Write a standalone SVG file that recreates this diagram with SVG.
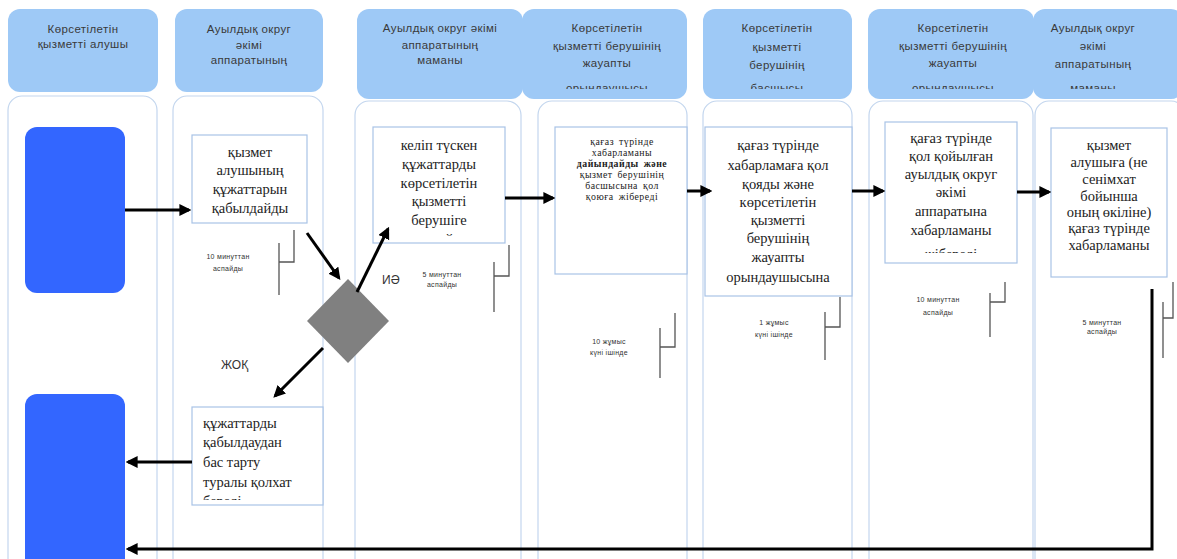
<svg xmlns="http://www.w3.org/2000/svg" width="1177" height="559" viewBox="0 0 1177 559">
<style>
.hdr{fill:#9ec9f6;stroke:none}
.lane{fill:#ffffff;stroke:#c3d6ee;stroke-width:1.2}
.ht{font-family:"Liberation Sans",Arial,sans-serif;font-size:11.5px;fill:#3a3a3a;text-anchor:middle;letter-spacing:0.4px}
.box{fill:#ffffff;stroke:#a9c3e6;stroke-width:1.2}
.bt{font-family:"Liberation Serif","Times New Roman",serif;font-size:14.5px;fill:#222;text-anchor:middle}
.btl{font-family:"Liberation Serif","Times New Roman",serif;font-size:14.5px;fill:#222;text-anchor:start}
.bs{font-family:"Liberation Serif","Times New Roman",serif;font-size:9.8px;fill:#222;text-anchor:middle;letter-spacing:0.5px;word-spacing:2px}
.note{font-family:"Liberation Sans",Arial,sans-serif;font-size:7px;fill:#333;text-anchor:middle;letter-spacing:0.3px}
.lbl{font-family:"Liberation Sans",Arial,sans-serif;font-size:12px;fill:#333}
.start{fill:#3366ff}
.arr{fill:none;stroke:#000;stroke-width:3}
.br{fill:none;stroke:#555;stroke-width:1.3}
</style>
<defs>
<marker id="ah" markerWidth="4" markerHeight="4" refX="3.2" refY="2" orient="auto" markerUnits="strokeWidth">
<path d="M0,0 L4,2 L0,4 Z" fill="#000"/>
</marker>
<clipPath id="ch"><rect x="0" y="0" width="1177" height="89"/></clipPath>
<clipPath id="c3"><rect x="355" y="120" width="170" height="116"/></clipPath>
<clipPath id="c6"><rect x="870" y="115" width="160" height="138"/></clipPath>
<clipPath id="c7"><rect x="180" y="400" width="150" height="100"/></clipPath>
</defs>
<rect width="1177" height="559" fill="#ffffff"/>

<g id="lanes">
<rect class="lane" x="8" y="96" width="149" height="480" rx="14"/>
<rect class="lane" x="173" y="96" width="150" height="480" rx="14"/>
<rect class="lane" x="355" y="101" width="166" height="480" rx="14"/>
<rect class="lane" x="538" y="101" width="149" height="480" rx="14"/>
<rect class="lane" x="703" y="101" width="149" height="480" rx="14"/>
<rect class="lane" x="869" y="101" width="164" height="480" rx="14"/>
<rect class="lane" x="1035" y="101" width="150" height="480" rx="14"/>
</g>

<g id="h1"><rect class="hdr" x="8" y="9" width="150" height="83" rx="12"/>
<text class="ht" x="83" y="33">Көрсетілетін</text><text class="ht" x="83" y="48">қызметті алушы</text></g>
<g id="h2"><rect class="hdr" x="175" y="9" width="148" height="83" rx="12"/>
<text class="ht" x="249" y="33">Ауылдық округ</text><text class="ht" x="249" y="49">әкімі</text><text class="ht" x="249" y="64">аппаратының</text></g>
<g id="h3"><rect class="hdr" x="357" y="9" width="166" height="90" rx="12"/>
<text class="ht" x="440" y="32">Ауылдық округ әкімі</text><text class="ht" x="440" y="49">аппаратының</text><text class="ht" x="440" y="64">маманы</text></g>
<g id="h4"><rect class="hdr" x="522" y="9" width="165" height="90" rx="12"/>
<g clip-path="url(#ch)"><text class="ht" x="607" y="32">Көрсетілетін</text><text class="ht" x="607" y="50">қызметті берушінің</text><text class="ht" x="607" y="67">жауапты</text><text class="ht" x="607" y="92">орындаушысы</text></g></g>
<g id="h5"><rect class="hdr" x="703" y="9" width="149" height="90" rx="12"/>
<g clip-path="url(#ch)"><text class="ht" x="777" y="32">Көрсетілетін</text><text class="ht" x="777" y="51">қызметті</text><text class="ht" x="777" y="69">берушінің</text><text class="ht" x="777" y="92">басшысы</text></g></g>
<g id="h6"><rect class="hdr" x="868" y="9" width="166" height="90" rx="12"/>
<g clip-path="url(#ch)"><text class="ht" x="953" y="32">Көрсетілетін</text><text class="ht" x="953" y="50">қызметті берушінің</text><text class="ht" x="953" y="67">жауапты</text><text class="ht" x="953" y="92">орындаушысы</text></g></g>
<g id="h7"><rect class="hdr" x="1033" y="9" width="150" height="90" rx="12"/>
<g clip-path="url(#ch)"><text class="ht" x="1093" y="32">Ауылдық округ</text><text class="ht" x="1093" y="50">әкімі</text><text class="ht" x="1093" y="68">аппаратының</text><text class="ht" x="1093" y="92">маманы</text></g></g>

<g id="start1"><rect class="start" x="25" y="127" width="100" height="166" rx="12"/></g>
<g id="start2"><rect class="start" x="25" y="394" width="100" height="185" rx="12"/></g>

<g id="n1"><rect class="box" x="192" y="135" width="115" height="88"/>
<text class="bt" x="250" y="157">қызмет</text><text class="bt" x="250" y="175">алушының</text><text class="bt" x="250" y="194">құжаттарын</text><text class="bt" x="250" y="213">қабылдайды</text></g>

<g id="decision"><polygon points="348,279 389,321 348,363 307,321" fill="#808080"/></g>

<g id="n2"><rect class="box" x="373" y="127" width="132" height="116"/>
<g clip-path="url(#c3)">
<text class="bt" x="439" y="150">келіп түскен</text><text class="bt" x="439" y="169">құжаттарды</text><text class="bt" x="439" y="188">көрсетілетін</text><text class="bt" x="439" y="206">қызметті</text><text class="bt" x="439" y="225">берушіге</text><text class="bt" x="439" y="244">жолдайды</text></g></g>

<g id="n3"><rect class="box" x="555" y="127" width="132" height="147"/>
<text class="bs" x="622" y="145">қағаз түрінде</text><text class="bs" x="622" y="156">хабарламаны</text><text class="bs" x="622" y="167" font-weight="bold">дайындайды  және</text><text class="bs" x="622" y="178">қызмет берушінің</text><text class="bs" x="622" y="189">басшысына  қол</text><text class="bs" x="622" y="200">қоюға жібереді</text></g>

<g id="n4"><rect class="box" x="705" y="127" width="147" height="169"/>
<text class="bt" x="778" y="150">қағаз түрінде</text><text class="bt" x="778" y="170">хабарламаға қол</text><text class="bt" x="778" y="189">қояды және</text><text class="bt" x="778" y="207">көрсетілетін</text><text class="bt" x="778" y="225">қызметті</text><text class="bt" x="778" y="243">берушінің</text><text class="bt" x="778" y="262">жауапты</text><text class="bt" x="778" y="282">орындаушысына</text></g>

<g id="n5"><rect class="box" x="885" y="122" width="132" height="141"/>
<g clip-path="url(#c6)">
<text class="bt" x="951" y="143">қағаз түрінде</text><text class="bt" x="951" y="161">қол қойылған</text><text class="bt" x="951" y="179">ауылдық округ</text><text class="bt" x="951" y="197">әкімі</text><text class="bt" x="951" y="216">аппаратына</text><text class="bt" x="951" y="235">хабарламаны</text><text class="bt" x="951" y="259">жібереді</text></g></g>

<g id="n6"><rect class="box" x="1051" y="128" width="116" height="149"/>
<text class="bt" x="1109" y="150">қызмет</text><text class="bt" x="1109" y="167">алушыға (не</text><text class="bt" x="1109" y="184">сенімхат</text><text class="bt" x="1109" y="201">бойынша</text><text class="bt" x="1109" y="217">оның өкіліне)</text><text class="bt" x="1109" y="233">қағаз түрінде</text><text class="bt" x="1109" y="250">хабарламаны</text></g>

<g id="n7"><rect class="box" x="192" y="407" width="131" height="98"/>
<g clip-path="url(#c7)">
<text class="btl" x="203" y="428">құжаттарды</text><text class="btl" x="203" y="447">қабылдаудан</text><text class="btl" x="203" y="467">бас тарту</text><text class="btl" x="203" y="487">туралы қолхат</text><text class="btl" x="203" y="506">береді</text></g></g>

<g id="labels">
<text class="lbl" x="382" y="284">ИӘ</text>
<text class="lbl" x="221" y="369">ЖОҚ</text>
</g>

<g id="notes">
<text class="note" x="228" y="259">10 минуттан</text><text class="note" x="228" y="271">аспайды</text>
<text class="note" x="442" y="277">5 минуттан</text><text class="note" x="442" y="287">аспайды</text>
<text class="note" x="609" y="344">10 жұмыс</text><text class="note" x="609" y="355">күні ішінде</text>
<text class="note" x="774" y="325">1 жұмыс</text><text class="note" x="774" y="337">күні ішінде</text>
<text class="note" x="938" y="302">10 минуттан</text><text class="note" x="938" y="315">аспайды</text>
<text class="note" x="1102" y="325">5 минуттан</text><text class="note" x="1102" y="334">аспайды</text>
<path class="br" d="M279,243 V295 M279,262 H294 V230"/>
<path class="br" d="M494,262 V312 M494,276 H509 V245"/>
<path class="br" d="M660,328 V378 M660,347 H675 V313"/>
<path class="br" d="M825,312 V360 M825,327 H840 V297"/>
<path class="br" d="M990,293 V337 M990,302 H1005 V282"/>
<path class="br" d="M1163,302 V358 M1163,318 H1173 V282"/>
</g>

<g id="connectors">
<path class="arr" d="M125,210 H189" marker-end="url(#ah)"/>
<path class="arr" d="M307,233 L339,278" marker-end="url(#ah)"/>
<path class="arr" d="M357,292 L388,229" marker-end="url(#ah)"/>
<path class="arr" d="M323,348 L275,396" marker-end="url(#ah)"/>
<path class="arr" d="M192,462 H128" marker-end="url(#ah)"/>
<path class="arr" d="M505,198 H553" marker-end="url(#ah)"/>
<path class="arr" d="M687,191 H710" marker-end="url(#ah)"/>
<path class="arr" d="M852,191 H883" marker-end="url(#ah)"/>
<path class="arr" d="M1017,192 H1049" marker-end="url(#ah)"/>
<path class="arr" d="M1152,289 V549 H128" marker-end="url(#ah)"/>
</g>
</svg>
